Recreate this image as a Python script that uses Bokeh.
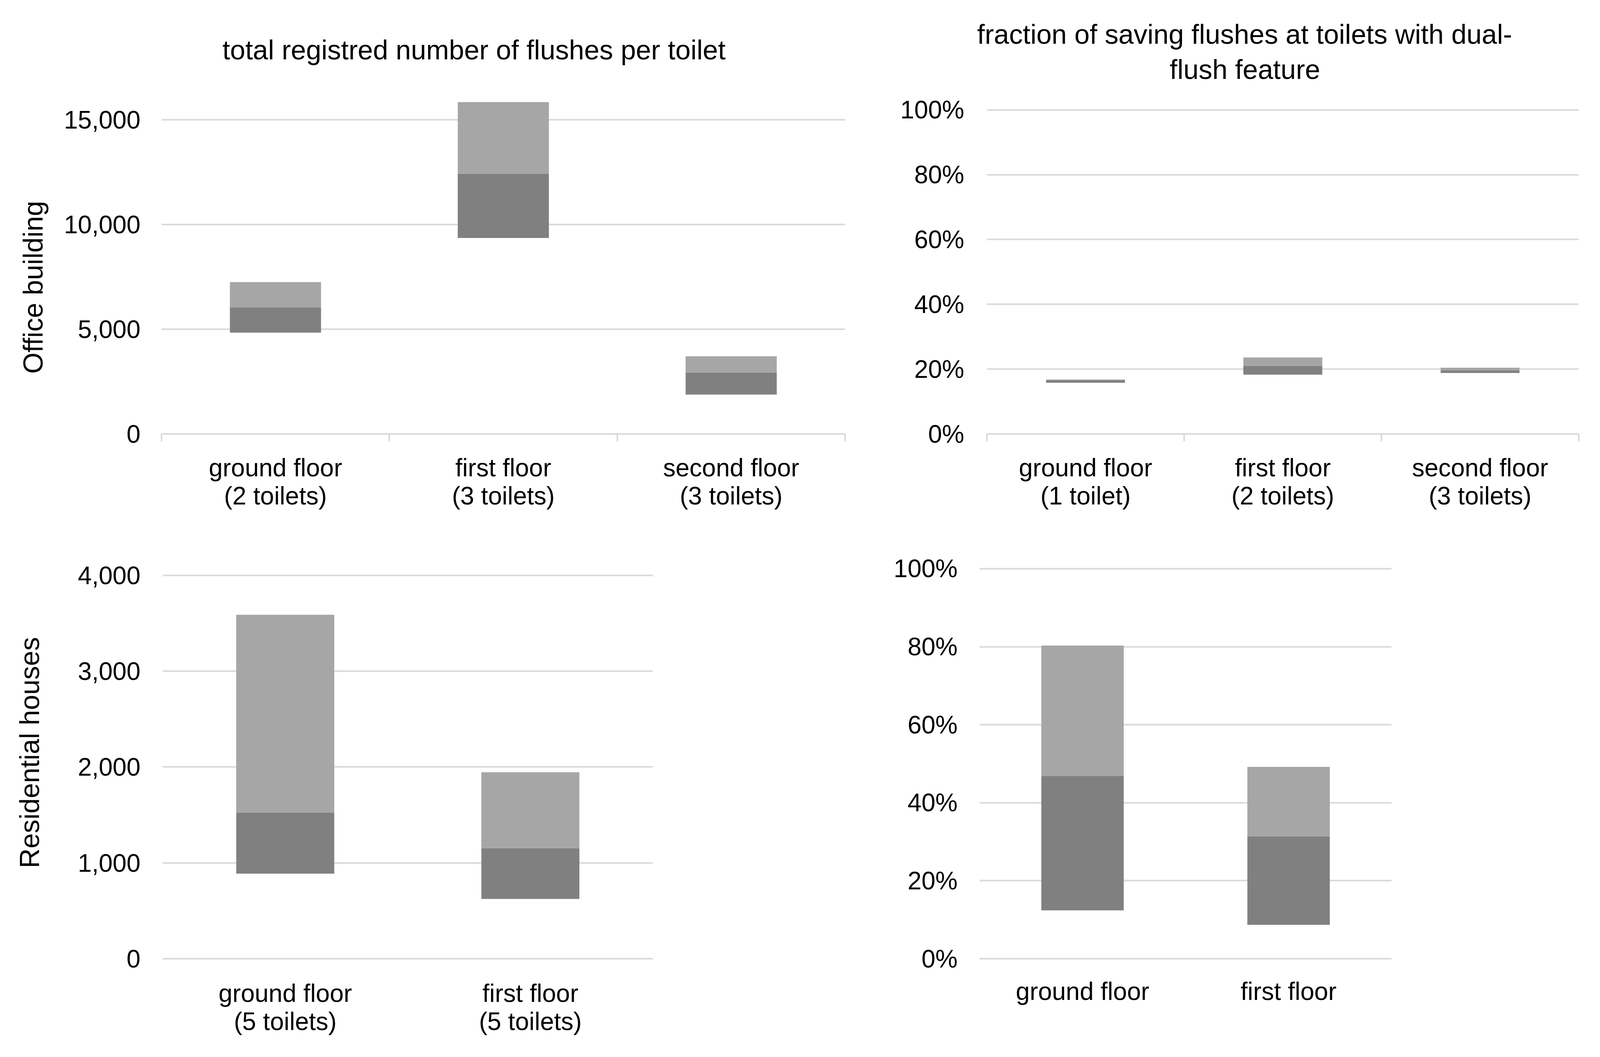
import numpy as np
from bokeh.plotting import figure
from bokeh.models import Range1d, FixedTicker, NumeralTickFormatter, PrintfTickFormatter, Title
from bokeh.layouts import column, row
from bokeh.embed import file_html
from bokeh.resources import INLINE

# ---------------- data ----------------
office_total_cats = ["ground floor\n(2 toilets)", "first floor\n(3 toilets)", "second floor\n(3 toilets)"]
office_total_low = [4840, 9360, 1880]
office_total_mid = [6040, 12430, 2920]
office_total_high = [7250, 15850, 3710]
office_total_ticks = [0, 5000, 10000, 15000]

office_frac_cats = ["ground floor\n(1 toilet)", "first floor\n(2 toilets)", "second floor\n(3 toilets)"]
office_frac_low = [15.8, 18.3, 18.8]
office_frac_mid = [16.6, 21.0, 19.65]
office_frac_high = [16.8, 23.6, 20.45]

res_total_cats = ["ground floor\n(5 toilets)", "first floor\n(5 toilets)"]
res_total_low = [888, 624]
res_total_mid = [1522, 1152]
res_total_high = [3588, 1945]
res_total_ticks = [0, 1000, 2000, 3000, 4000]

res_frac_cats = ["ground floor", "first floor"]
res_frac_low = [12.4, 8.7]
res_frac_mid = [46.9, 31.3]
res_frac_high = [80.3, 49.2]
pct_ticks = [0, 20, 40, 60, 80, 100]

title_left = "total registred number of flushes per toilet"
title_right_1 = "fraction of saving flushes at toilets with dual-"
title_right_2 = "flush feature"
ylabel_top = "Office building"
ylabel_bottom = "Residential houses"

# ---------------- style ----------------
FONT = "Liberation Sans"
DARK = "#808080"
LIGHT = "#A6A6A6"
GRID = "#D9D9D9"
TICK_FS = "64px"
TITLE_FS = "70px"


def text_title(text, align, offset, standoff):
    return Title(text=text, align=align, offset=offset, standoff=standoff,
                 text_font=FONT, text_font_size=TITLE_FS,
                 text_font_style="normal", text_color="black")


def make(cats, low, mid, high, yticks, yfmt, y_end, width, height,
         mbl, mbr, mbt, mbb, sep_ticks, xstandoff, ystandoff):
    n = len(cats)
    xs = np.arange(n) + 0.5
    p = figure(width=width, height=height, x_range=Range1d(0, n),
               y_range=Range1d(0, y_end), output_backend="svg",
               toolbar_location=None, min_border_left=mbl,
               min_border_right=mbr, min_border_top=mbt,
               min_border_bottom=mbb, title=None)
    p.outline_line_color = None
    p.background_fill_color = "white"
    p.border_fill_color = "white"
    p.vbar(x=xs, width=0.4, bottom=low, top=mid, fill_color=DARK, line_color=None)
    p.vbar(x=xs, width=0.4, bottom=mid, top=high, fill_color=LIGHT, line_color=None)

    p.xgrid.grid_line_color = None
    p.ygrid.ticker = FixedTicker(ticks=yticks[1:])
    p.ygrid.grid_line_color = GRID
    p.ygrid.grid_line_width = 4

    ya = p.yaxis[0]
    ya.ticker = FixedTicker(ticks=yticks)
    ya.formatter = yfmt
    ya.axis_line_color = None
    ya.major_tick_line_color = None
    ya.minor_tick_line_color = None
    ya.major_tick_out = 0
    ya.major_label_standoff = ystandoff
    ya.major_label_text_font = FONT
    ya.major_label_text_font_size = TICK_FS
    ya.major_label_text_color = "black"

    xa = p.xaxis[0]
    if sep_ticks:
        xa.ticker = FixedTicker(ticks=list(xs), minor_ticks=list(range(n + 1)))
        xa.minor_tick_line_color = GRID
        xa.minor_tick_line_width = 4
        xa.minor_tick_out = 19
        xa.minor_tick_in = 0
    else:
        xa.ticker = FixedTicker(ticks=list(xs))
        xa.minor_tick_line_color = None
    xa.major_tick_line_color = None
    xa.major_tick_out = 0
    xa.major_tick_in = 0
    xa.axis_line_color = GRID
    xa.axis_line_width = 4
    xa.major_label_overrides = {float(x): c for x, c in zip(xs, cats)}
    xa.major_label_text_font = FONT
    xa.major_label_text_font_size = TICK_FS
    xa.major_label_text_color = "black"
    xa.major_label_text_line_height = 1.0
    xa.major_label_standoff = xstandoff
    return p


num_fmt = NumeralTickFormatter(format="0,0")
pct_fmt = PrintfTickFormatter(format="%d%%")

p1 = make(office_total_cats, office_total_low, office_total_mid, office_total_high,
          office_total_ticks, num_fmt, 16500, 2175, 1340, 413, 12, 226, 230,
          True, 31, 54)
p1.add_layout(text_title(title_left, "left", 156, 120), "above")
p1.add_layout(text_title(ylabel_top, "left", 154, 73), "left")

p2 = make(office_frac_cats, office_frac_low, office_frac_mid, office_frac_high,
          pct_ticks, pct_fmt, 106.6, 1878, 1340, 351, 12, 226, 230,
          True, 31, 58)
p2.add_layout(text_title(title_right_2, "left", 468, 20), "above")
p2.add_layout(text_title(title_right_1, "left", -25, 0), "above")

p3 = make(res_total_cats, res_total_low, res_total_mid, res_total_high,
          res_total_ticks, num_fmt, 4300, 1683, 1340, 416, 12, 58, 227,
          False, 52, 57)
ya3 = p3.yaxis[0]
ya3.axis_label = ylabel_bottom
ya3.axis_label_text_font = FONT
ya3.axis_label_text_font_size = TITLE_FS
ya3.axis_label_text_font_style = "normal"
ya3.axis_label_text_color = "black"
ya3.axis_label_standoff = 81

p4 = make(res_frac_cats, res_frac_low, res_frac_mid, res_frac_high,
          pct_ticks, pct_fmt, 105.7, 1891, 1340, 824, 12, 58, 227,
          False, 47, 56)

layout = column(row(p1, p2), row(p3, p4))
open("out.html", "w").write(file_html(layout, INLINE))
